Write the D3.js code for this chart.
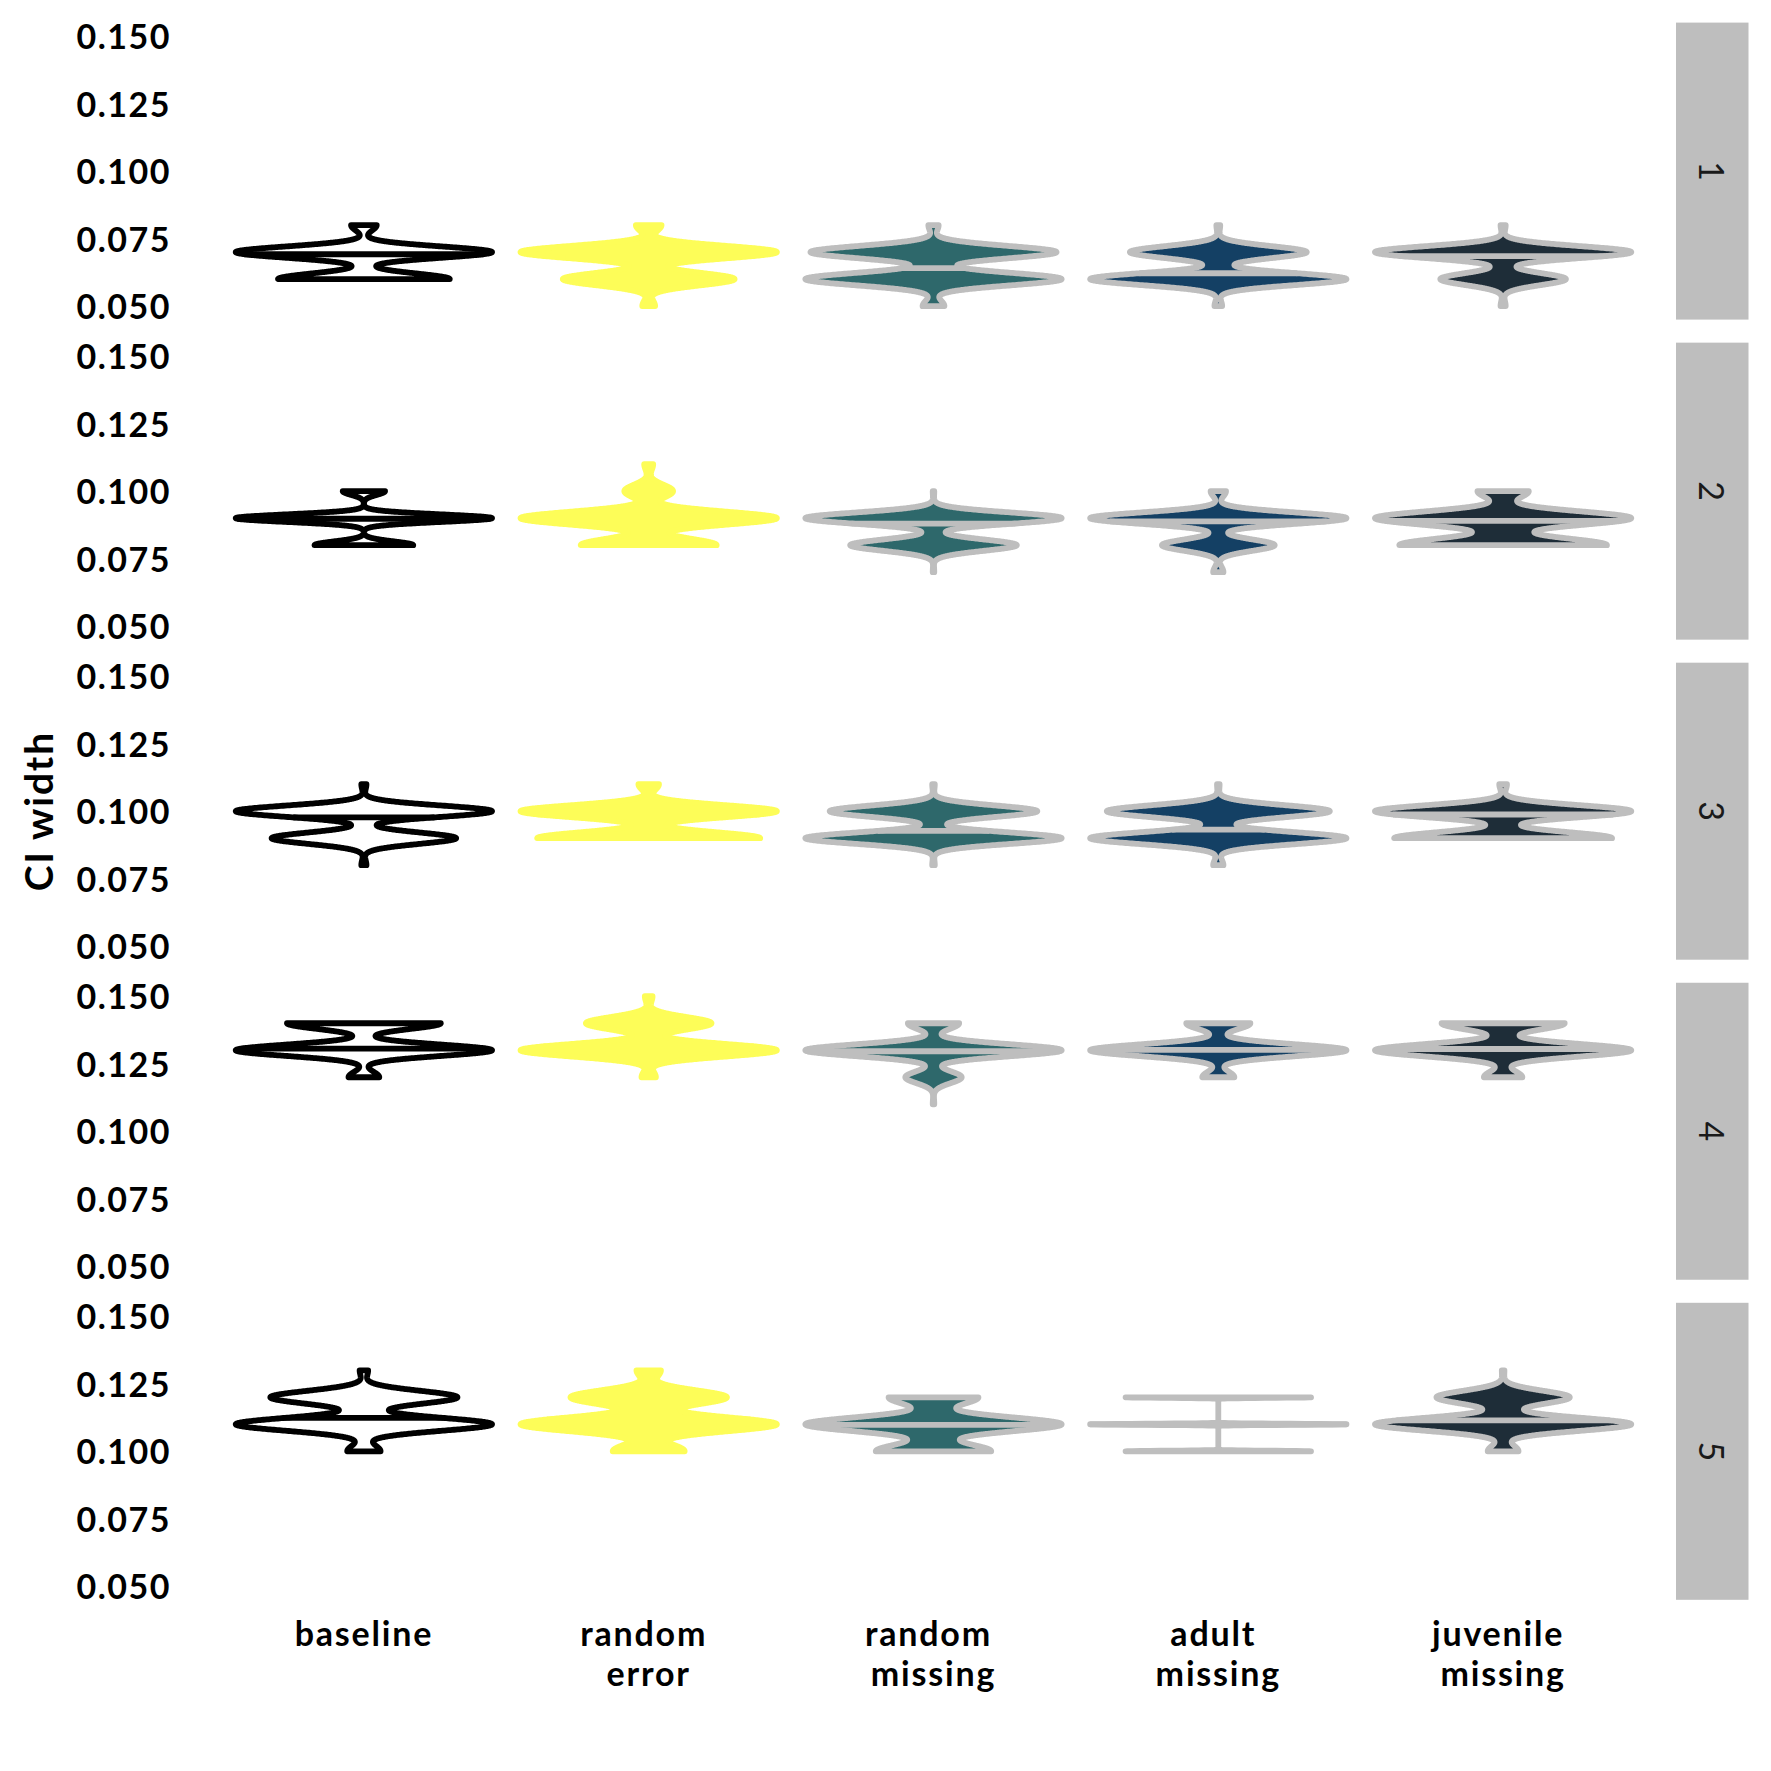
<!DOCTYPE html>
<html><head><meta charset="utf-8">
<script src="https://cdn.jsdelivr.net/npm/d3@7"></script>
<style>
body{margin:0;background:#fff;}
svg{display:block;}
text{font-family:Lato, "Open Sans", sans-serif;}
</style>
</head><body>
<svg id="chart" width="1771" height="1771"></svg>
<script>
// ---------- data ----------
const panels = ["1", "2", "3", "4", "5"];
const scenarios = ["baseline", "random error", "random missing", "adult missing", "juvenile missing"];
const xLabelLines = [["baseline"], ["random ", "error"], ["random ", "missing"], ["adult ", "missing"], ["juvenile ", "missing"]];
const ciGrid = [0.05, 0.06, 0.07, 0.08, 0.09, 0.10, 0.11, 0.12, 0.13, 0.14, 0.15];
const yTicks = [0.05, 0.075, 0.1, 0.125, 0.15];

// relative frequency of each CI width (ciGrid), one row per scenario
const freqPanel1 = [
  [0, 0.67, 1, 0.10, 0, 0, 0, 0, 0, 0, 0],
  [0.05, 0.67, 1, 0.10, 0, 0, 0, 0, 0, 0, 0],
  [0.085, 1, 0.96, 0.04, 0, 0, 0, 0, 0, 0, 0],
  [0.03, 1, 0.69, 0.015, 0, 0, 0, 0, 0, 0, 0],
  [0.02, 0.49, 1, 0.02, 0, 0, 0, 0, 0, 0, 0]
];
const freqPanel2 = [
  [0, 0, 0, 0.385, 1, 0.165, 0, 0, 0, 0, 0],
  [0, 0, 0, 0.53, 1, 0.19, 0.035, 0, 0, 0, 0],
  [0, 0, 0.006, 0.65, 1, 0.006, 0, 0, 0, 0, 0],
  [0, 0, 0.04, 0.44, 1, 0.06, 0, 0, 0, 0, 0],
  [0, 0, 0, 0.81, 1, 0.20, 0, 0, 0, 0, 0]
];
const freqPanel3 = [
  [0, 0, 0, 0.02, 0.72, 1, 0.02, 0, 0, 0, 0],
  [0, 0, 0, 0, 0.87, 1, 0.08, 0, 0, 0, 0],
  [0, 0, 0, 0.01, 1, 0.81, 0.01, 0, 0, 0, 0],
  [0, 0, 0, 0.04, 1, 0.87, 0.01, 0, 0, 0, 0],
  [0, 0, 0, 0, 0.85, 1, 0.03, 0, 0, 0, 0]
];
const freqPanel4 = [
  [0, 0, 0, 0, 0, 0, 0, 0.12, 1, 0.60, 0],
  [0, 0, 0, 0, 0, 0, 0, 0.056, 1, 0.49, 0.03],
  [0, 0, 0, 0, 0, 0, 0.006, 0.22, 1, 0.20, 0],
  [0, 0, 0, 0, 0, 0, 0, 0.125, 1, 0.25, 0],
  [0, 0, 0, 0, 0, 0, 0, 0.15, 1, 0.48, 0]
];
const freqPanel5 = [
  [0, 0, 0, 0, 0, 0.13, 1, 0.73, 0.033, 0, 0],
  [0, 0, 0, 0, 0, 0.28, 1, 0.61, 0.095, 0, 0],
  [0, 0, 0, 0, 0, 0.45, 1, 0.35, 0, 0, 0],
  [0, 0, 0, 0, 0, 0.72, 1, 0.72, 0, 0, 0],
  [0, 0, 0, 0, 0, 0.12, 1, 0.52, 0.01, 0, 0]
];
// kernel bandwidth of each violin (CI-width units)
const bwPanel1 = [0.0021, 0.0023, 0.0023, 0.0022, 0.0022];
const bwPanel2 = [0.0014, 0.0024, 0.0021, 0.0021, 0.0025];
const bwPanel3 = [0.0021, 0.0022, 0.0021, 0.0022, 0.0022];
const bwPanel4 = [0.0021, 0.0023, 0.0022, 0.0022, 0.0023];
const bwPanel5 = [0.0024, 0.0026, 0.0026, 0.0002, 0.0024];

const fillColors = ["#FFFFFF", "#FDFD58", "#2E686B", "#144064", "#1E2D38"];
const lineColors = ["#000000", "#FDFD58", "#BEBEBE", "#BEBEBE", "#BEBEBE"];

const freqs = [freqPanel1, freqPanel2, freqPanel3, freqPanel4, freqPanel5];
const bws = [bwPanel1, bwPanel2, bwPanel3, bwPanel4, bwPanel5];

// ---------- layout ----------
const svg = d3.select("#chart");
const panelLeft = 193, panelRight = 1674;
const panelTop0 = 22.6, panelH = 297, panelStep = 320.05;
const stripX = 1676, stripW = 72.5;
const FONT = 34;
const STROKE = 5.8;

const x = d3.scaleBand().domain(scenarios).range([panelLeft, panelRight])
  .paddingInner(0).paddingOuter(0.1);
const halfMax = x.bandwidth() * 0.45;

function violinData(freq, bw) {
  const pts = ciGrid.map((v, i) => ({ v, w: freq[i] })).filter(d => d.w > 0);
  const lo = d3.min(pts, d => d.v), hi = d3.max(pts, d => d.v);
  const n = 512;
  const tot = d3.sum(pts, d => d.w);
  const grid = d3.range(n).map(i => lo + (hi - lo) * i / (n - 1));
  const dens = grid.map(y => d3.sum(pts, d => d.w * Math.exp(-0.5 * ((y - d.v) / bw) ** 2)) / (tot * bw * Math.sqrt(2 * Math.PI)));
  const mx = d3.max(dens);
  const rows = grid.map((y, i) => ({ y, w: dens[i] / mx }));
  // median from the density's cumulative distribution
  const cs = d3.cumsum(dens);
  const total = cs[cs.length - 1];
  let k = cs.findIndex(c => c / total >= 0.5);
  if (k < 1) k = 1;
  const c0 = cs[k - 1] / total, c1 = cs[k] / total;
  const t = c1 === c0 ? 0 : (0.5 - c0) / (c1 - c0);
  const medY = grid[k - 1] + t * (grid[k] - grid[k - 1]);
  const medW = rows[k - 1].w + t * (rows[k].w - rows[k - 1].w);
  return { rows, medY, medW };
}

panels.forEach((p, pi) => {
  const top = panelTop0 + pi * panelStep;
  const y = d3.scaleLinear().domain([0.045, 0.155]).range([top + panelH, top]);
  const g = svg.append("g").attr("class", "panel");

  // y axis
  const ax = g.append("g").attr("transform", `translate(${panelLeft},0)`)
    .call(d3.axisLeft(y).tickValues(yTicks).tickFormat(d3.format(".3f")).tickSize(0).tickPadding(22));
  ax.select(".domain").remove();
  ax.selectAll("text").attr("font-family", "Lato, sans-serif").attr("font-weight", 700)
    .attr("font-size", FONT).attr("fill", "#000").attr("letter-spacing", 1.5)
    .attr("dy", "0.37em");

  // violins
  scenarios.forEach((s, si) => {
    const vd = violinData(freqs[pi][si], bws[pi][si]);
    const cx = x(s) + x.bandwidth() / 2;
    const area = d3.area()
      .y(d => y(d.y))
      .x0(d => cx - d.w * halfMax)
      .x1(d => cx + d.w * halfMax);
    g.append("path").datum(vd.rows)
      .attr("d", area)
      .attr("fill", fillColors[si])
      .attr("stroke", lineColors[si])
      .attr("stroke-width", STROKE)
      .attr("stroke-linejoin", "round");
    const line = d3.line().x(d => d[0]).y(d => d[1]);
    g.append("path")
      .attr("d", line([[cx - vd.medW * halfMax, y(vd.medY)], [cx + vd.medW * halfMax, y(vd.medY)]]))
      .attr("fill", "none")
      .attr("stroke", lineColors[si])
      .attr("stroke-width", STROKE);
  });

  // strip
  svg.append("rect").attr("x", stripX).attr("y", top).attr("width", stripW).attr("height", panelH)
    .attr("fill", "#BEBEBE");
  svg.append("text")
    .attr("transform", `translate(${stripX + stripW / 2},${top + panelH / 2}) rotate(90)`)
    .attr("text-anchor", "middle").attr("dominant-baseline", "central")
    .attr("font-size", FONT).attr("fill", "#1A1A1A")
    .text(p);
});

// x labels
scenarios.forEach((s, si) => {
  const cx = x(s) + x.bandwidth() / 2;
  const t = svg.append("text").attr("text-anchor", "middle")
    .attr("font-size", FONT).attr("font-weight", 700).attr("fill", "#000")
    .attr("letter-spacing", 1.8).style("white-space", "pre");
  xLabelLines[si].forEach((ln, li) => {
    t.append("tspan").attr("x", cx).attr("y", 1646 + li * 40).text(ln);
  });
});

// y title
svg.append("text")
  .attr("transform", `translate(38,${panelTop0 + (4 * panelStep + panelH) / 2}) rotate(-90)`)
  .attr("text-anchor", "middle").attr("dominant-baseline", "central")
  .attr("font-size", 39).attr("font-weight", 700).attr("fill", "#000").attr("letter-spacing", 1.8)
  .text("CI width");
</script>
</body></html>
